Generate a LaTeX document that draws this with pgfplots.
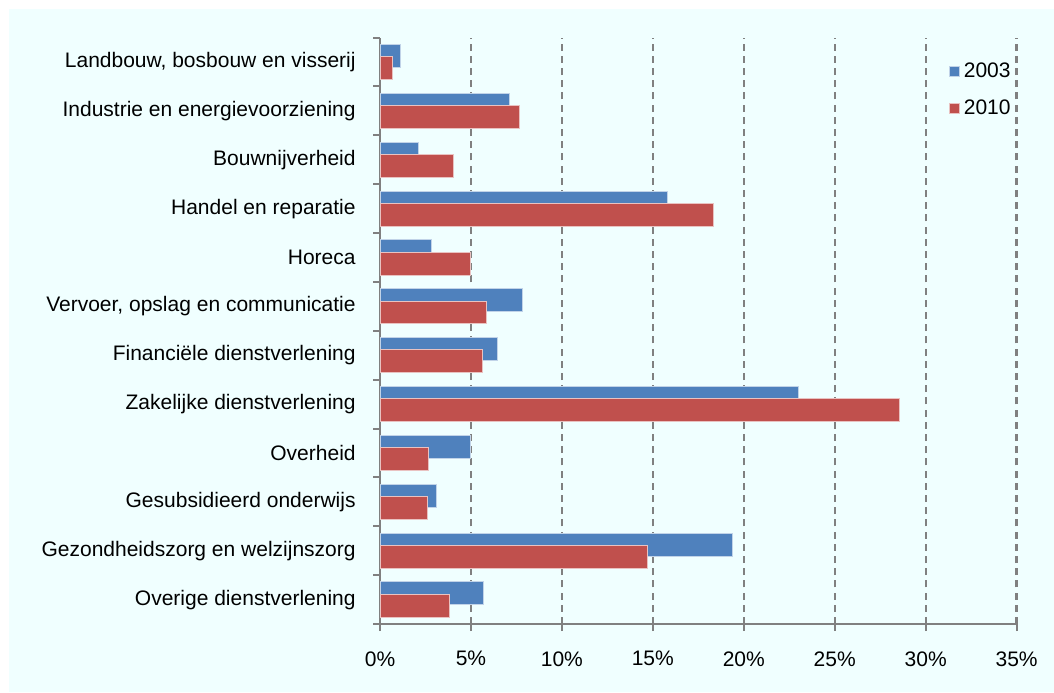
\documentclass[border=0pt]{standalone}
\usepackage{fontspec}
\setmainfont{Liberation Sans}
\usepackage{pgfplots}
\pgfplotsset{compat=1.18}
\definecolor{bg}{HTML}{F0FFFF}
\definecolor{bblue}{HTML}{4F81BD}
\definecolor{bred}{HTML}{C0504D}
\definecolor{axgray}{HTML}{808080}
\newcommand{\lbl}{\fontsize{10.5}{12.6}\selectfont}
\begin{document}
\begin{tikzpicture}
\useasboundingbox (0,0) rectangle (527pt,-346pt);
\fill[white] (0,0) rectangle (527pt,-346pt);
\fill[bg] (4.5pt,-4.5pt) rectangle (527pt,-346pt);
\begin{axis}[
  at={(190pt,-312pt)}, anchor=south west,
  scale only axis, width=318.3pt, height=293.2pt,
  xbar, bar width=0.47,
  xmin=0, xmax=35, ymin=-0.5, ymax=11.5,
  axis x line*=bottom, axis y line*=left,
  axis line style={axgray, line width=1pt},
  xtick={0,5,...,35},
  xticklabels={0\%,5\%,10\%,15\%,20\%,25\%,30\%,35\%},
  ytick={0,...,11},
  yticklabels={Overige dienstverlening, Gezondheidszorg en welzijnszorg,
    Gesubsidieerd onderwijs, Overheid, Zakelijke dienstverlening,
    Financiële dienstverlening, {Vervoer, opslag en communicatie}, Horeca,
    Handel en reparatie, Bouwnijverheid, Industrie en energievoorziening,
    {Landbouw, bosbouw en visserij}},
  minor ytick={-0.5,0.5,...,11.5},
  tick align=outside,
  major tick length=7pt, minor tick length=3.5pt,
  xtick style={axgray, line width=1pt, yshift=3.5pt},
  major y tick style={draw=none},
  minor y tick style={axgray, line width=1pt},
  xmajorgrids,
  grid style={axgray, line width=1.15pt, dash pattern=on 3.5pt off 2.6pt},
  tick label style={font=\lbl, inner sep=0pt},
  xticklabel style={yshift=-6.5pt},
  yticklabel style={xshift=-5pt},
  legend style={at={(0.8937,0.958)}, anchor=north west, draw=none, fill=none,
    font=\lbl, row sep=9.8pt, inner sep=0pt, nodes={inner sep=0pt}},
  legend cell align=left,
  legend image code/.code={\fill[#1] (0pt,-2.5pt) rectangle (5pt,2.5pt);},
]
\addplot[fill=bblue, draw=white!65!bblue, line width=0.5pt, bar shift=0.125]
  coordinates {(5.70,0) (19.37,1) (3.12,2) (4.97,3) (22.99,4) (6.44,5)
               (7.85,6) (2.83,7) (15.78,8) (2.11,9) (7.14,10) (1.10,11)};
\addlegendentry{\,2003}
\addplot[fill=bred, draw=white!65!bred, line width=0.5pt, bar shift=-0.125]
  coordinates {(3.81,0) (14.69,1) (2.60,2) (2.68,3) (28.56,4) (5.63,5)
               (5.85,6) (4.95,7) (18.33,8) (4.02,9) (7.67,10) (0.71,11)};
\addlegendentry{\,2010}
\end{axis}
\end{tikzpicture}
\end{document}
